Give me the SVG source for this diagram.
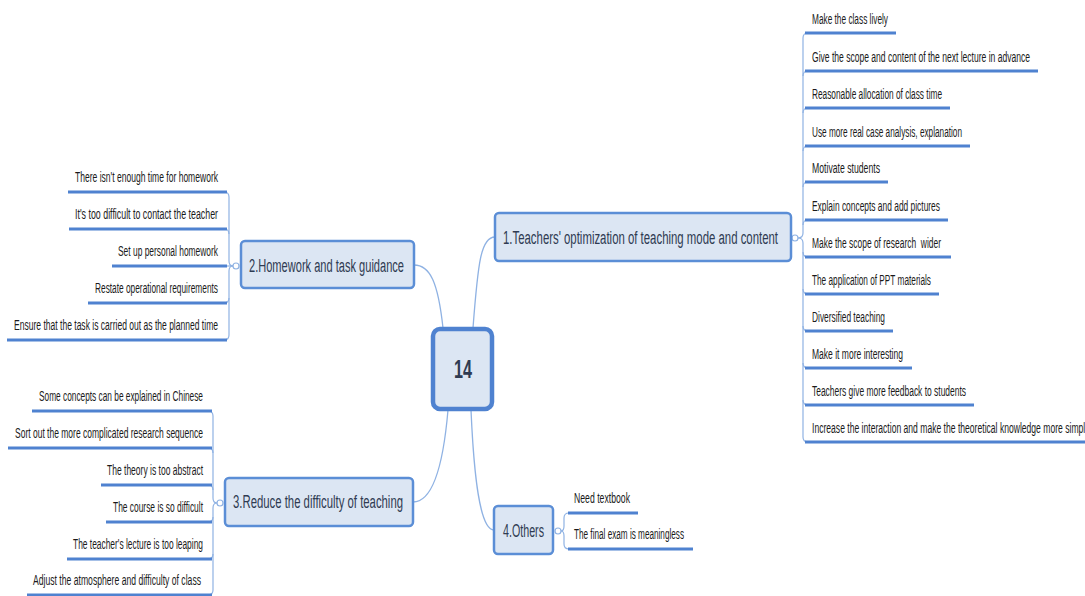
<svg xmlns="http://www.w3.org/2000/svg" width="1085" height="596" viewBox="0 0 1085 596">
<style>
.bg{fill:#ffffff}
.topic{fill:#dce6f3;stroke:#5b8ed6;stroke-width:2.5}
.central{fill:#dce6f3;stroke:#4f82d0;stroke-width:4.5}
.ttext{font-family:"Liberation Sans",Arial,sans-serif;font-size:18px;fill:#2f3b52}
.ctext{font-family:"Liberation Sans",Arial,sans-serif;font-size:26px;font-weight:bold;fill:#2f3b52}
.leaf{font-family:"Liberation Sans",Arial,sans-serif;font-size:14px;fill:#1a1a1a}
.uline{stroke:#4f82d0;stroke-width:3;stroke-linecap:butt}
.main{fill:none;stroke:#8fb2e3;stroke-width:1.3}
.sub{fill:none;stroke:#8fb2e3;stroke-width:1.2}
.knob{fill:#ffffff;stroke:#8fb2e3;stroke-width:1.2}
</style>
<rect class="bg" x="0" y="0" width="1085" height="596"/>
<g id="connectors">
<path class="main" d="M473,328 C478,262 481,237 495,237"/>
<path class="main" d="M443,328 C438,282 430,265 414,265"/>
<path class="main" d="M448,410 C443,468 432,502 413,502"/>
<path class="main" d="M471,410 C474,478 480,530 494,530"/>
<path class="sub" d="M798,238 Q803,238 803,233 L803,38 Q803,33 808,33"/>
<path class="sub" d="M803,76 Q803,71 808,71"/>
<path class="sub" d="M803,113 Q803,108 808,108"/>
<path class="sub" d="M803,151 Q803,146 808,146"/>
<path class="sub" d="M803,187 Q803,182 808,182"/>
<path class="sub" d="M803,225 Q803,220 808,220"/>
<path class="sub" d="M798,238 Q803,238 803,243 L803,437 Q803,442 808,442"/>
<path class="sub" d="M803,252 Q803,257 808,257"/>
<path class="sub" d="M803,289 Q803,294 808,294"/>
<path class="sub" d="M803,326 Q803,331 808,331"/>
<path class="sub" d="M803,363 Q803,368 808,368"/>
<path class="sub" d="M803,400 Q803,405 808,405"/>
<path class="sub" d="M233,266 Q229,266 229,261 L229,197 Q229,192 224,192"/>
<path class="sub" d="M229,234 Q229,229 224,229"/>
<path class="sub" d="M233,266 L224,266"/>
<path class="sub" d="M233,266 Q229,266 229,271 L229,335 Q229,340 224,340"/>
<path class="sub" d="M229,298 Q229,303 224,303"/>
<path class="sub" d="M217,503 Q213,503 213,498 L213,416 Q213,411 208,411"/>
<path class="sub" d="M213,453 Q213,448 208,448"/>
<path class="sub" d="M213,490 Q213,485 208,485"/>
<path class="sub" d="M217,503 Q213,503 213,508 L213,590 Q213,595 208,595"/>
<path class="sub" d="M213,517 Q213,522 208,522"/>
<path class="sub" d="M213,554 Q213,559 208,559"/>
<path class="sub" d="M561,531 Q564,531 564,526 L564,518 Q564,513 569,513"/>
<path class="sub" d="M561,531 Q564,531 564,536 L564,544 Q564,549 569,549"/>
<circle class="knob" cx="795" cy="238" r="3"/>
<circle class="knob" cx="236" cy="266" r="3"/>
<circle class="knob" cx="220" cy="503" r="3"/>
<circle class="knob" cx="558" cy="531" r="3"/>
</g>
<g id="central">
<rect class="central" x="433" y="329" width="59" height="80" rx="7"/>
<text class="ctext" x="454" y="378" textLength="18" lengthAdjust="spacingAndGlyphs">14</text>
</g>
<g id="topic1">
<rect class="topic" x="495" y="213" width="296" height="48" rx="4"/>
<text class="ttext" x="503" y="244" textLength="275" lengthAdjust="spacingAndGlyphs">1.Teachers' optimization of teaching mode and content</text>
</g>
<g id="topic2">
<rect class="topic" x="241" y="241" width="173" height="47" rx="4"/>
<text class="ttext" x="249" y="272" textLength="155" lengthAdjust="spacingAndGlyphs">2.Homework and task guidance</text>
</g>
<g id="topic3">
<rect class="topic" x="225" y="478" width="188" height="48" rx="4"/>
<text class="ttext" x="233" y="508" textLength="170" lengthAdjust="spacingAndGlyphs">3.Reduce the difficulty of teaching</text>
</g>
<g id="topic4">
<rect class="topic" x="494" y="506" width="59" height="48" rx="4"/>
<text class="ttext" x="503" y="537" textLength="41" lengthAdjust="spacingAndGlyphs">4.Others</text>
</g>
<g id="leaves1">
<g id="l1-1"><line class="uline" x1="805" y1="33" x2="896" y2="33"/><text class="leaf" x="812" y="24" textLength="76" lengthAdjust="spacingAndGlyphs">Make the class lively</text></g>
<g id="l1-2"><line class="uline" x1="805" y1="71" x2="1038" y2="71"/><text class="leaf" x="812" y="62" textLength="218" lengthAdjust="spacingAndGlyphs">Give the scope and content of the next lecture in advance</text></g>
<g id="l1-3"><line class="uline" x1="805" y1="108" x2="950" y2="108"/><text class="leaf" x="812" y="99" textLength="130" lengthAdjust="spacingAndGlyphs">Reasonable allocation of class time</text></g>
<g id="l1-4"><line class="uline" x1="805" y1="146" x2="970" y2="146"/><text class="leaf" x="812" y="137" textLength="150" lengthAdjust="spacingAndGlyphs">Use more real case analysis, explanation</text></g>
<g id="l1-5"><line class="uline" x1="805" y1="182" x2="888" y2="182"/><text class="leaf" x="812" y="173" textLength="68" lengthAdjust="spacingAndGlyphs">Motivate students</text></g>
<g id="l1-6"><line class="uline" x1="805" y1="220" x2="948" y2="220"/><text class="leaf" x="812" y="211" textLength="128" lengthAdjust="spacingAndGlyphs">Explain concepts and add pictures</text></g>
<g id="l1-7"><line class="uline" x1="805" y1="257" x2="951" y2="257"/><text class="leaf" x="812" y="248" textLength="129" lengthAdjust="spacingAndGlyphs" xml:space="preserve">Make the scope of research  wider</text></g>
<g id="l1-8"><line class="uline" x1="805" y1="294" x2="939" y2="294"/><text class="leaf" x="812" y="285" textLength="119" lengthAdjust="spacingAndGlyphs">The application of PPT materials</text></g>
<g id="l1-9"><line class="uline" x1="805" y1="331" x2="893" y2="331"/><text class="leaf" x="812" y="322" textLength="73" lengthAdjust="spacingAndGlyphs">Diversified teaching</text></g>
<g id="l1-10"><line class="uline" x1="805" y1="368" x2="912" y2="368"/><text class="leaf" x="812" y="359" textLength="91" lengthAdjust="spacingAndGlyphs">Make it more interesting</text></g>
<g id="l1-11"><line class="uline" x1="805" y1="405" x2="974" y2="405"/><text class="leaf" x="812" y="396" textLength="154" lengthAdjust="spacingAndGlyphs">Teachers give more feedback to students</text></g>
<g id="l1-12"><line class="uline" x1="805" y1="442" x2="1092" y2="442"/><text class="leaf" x="812" y="433" textLength="278" lengthAdjust="spacingAndGlyphs">Increase the interaction and make the theoretical knowledge more simple</text></g>
</g>
<g id="leaves2">
<g id="l2-1"><line class="uline" x1="68" y1="192" x2="227" y2="192"/><text class="leaf" x="75" y="182" textLength="143" lengthAdjust="spacingAndGlyphs">There isn't enough time for homework</text></g>
<g id="l2-2"><line class="uline" x1="69" y1="229" x2="227" y2="229"/><text class="leaf" x="75" y="219" textLength="143" lengthAdjust="spacingAndGlyphs">It's too difficult to contact the teacher</text></g>
<g id="l2-3"><line class="uline" x1="112" y1="266" x2="227" y2="266"/><text class="leaf" x="118" y="256" textLength="100" lengthAdjust="spacingAndGlyphs">Set up personal homework</text></g>
<g id="l2-4"><line class="uline" x1="88" y1="303" x2="227" y2="303"/><text class="leaf" x="95" y="293" textLength="123" lengthAdjust="spacingAndGlyphs">Restate operational requirements</text></g>
<g id="l2-5"><line class="uline" x1="7" y1="340" x2="227" y2="340"/><text class="leaf" x="14" y="330" textLength="204" lengthAdjust="spacingAndGlyphs">Ensure that the task is carried out as the planned time</text></g>
</g>
<g id="leaves3">
<g id="l3-1"><line class="uline" x1="32" y1="411" x2="212" y2="411"/><text class="leaf" x="39" y="401" textLength="164" lengthAdjust="spacingAndGlyphs">Some concepts can be explained in Chinese</text></g>
<g id="l3-2"><line class="uline" x1="8" y1="448" x2="212" y2="448"/><text class="leaf" x="15" y="438" textLength="188" lengthAdjust="spacingAndGlyphs">Sort out the more complicated research sequence</text></g>
<g id="l3-3"><line class="uline" x1="101" y1="485" x2="212" y2="485"/><text class="leaf" x="107" y="475" textLength="96" lengthAdjust="spacingAndGlyphs">The theory is too abstract</text></g>
<g id="l3-4"><line class="uline" x1="106" y1="522" x2="212" y2="522"/><text class="leaf" x="113" y="512" textLength="90" lengthAdjust="spacingAndGlyphs">The course is so difficult</text></g>
<g id="l3-5"><line class="uline" x1="67" y1="559" x2="212" y2="559"/><text class="leaf" x="73" y="549" textLength="130" lengthAdjust="spacingAndGlyphs">The teacher's lecture is too leaping</text></g>
<g id="l3-6"><line class="uline" x1="27" y1="595" x2="212" y2="595"/><text class="leaf" x="33" y="585" textLength="168" lengthAdjust="spacingAndGlyphs">Adjust the atmosphere and difficulty of class</text></g>
</g>
<g id="leaves4">
<g id="l4-1"><line class="uline" x1="568" y1="513" x2="638" y2="513"/><text class="leaf" x="574" y="503" textLength="56" lengthAdjust="spacingAndGlyphs">Need textbook</text></g>
<g id="l4-2"><line class="uline" x1="568" y1="549" x2="693" y2="549"/><text class="leaf" x="574" y="539" textLength="110" lengthAdjust="spacingAndGlyphs">The final exam is meaningless</text></g>
</g>
</svg>
